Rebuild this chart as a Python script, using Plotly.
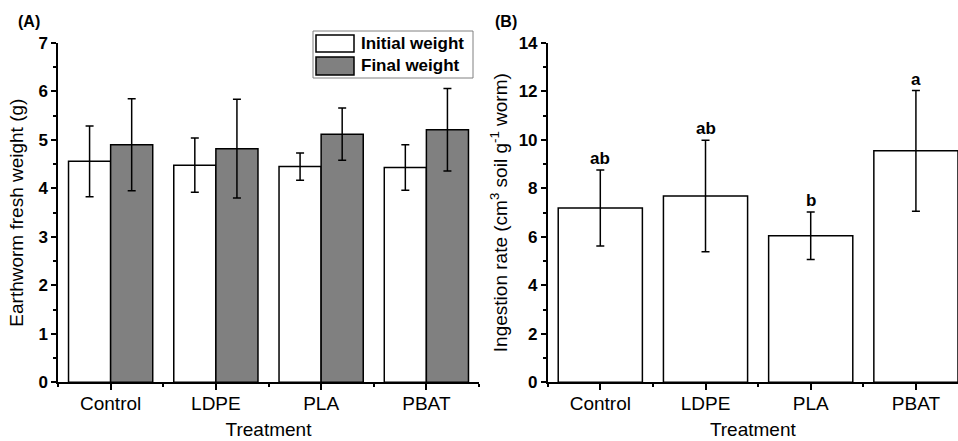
import plotly.graph_objects as go

# ---------------- data ----------------
categories = ["Control", "LDPE", "PLA", "PBAT"]
initial_mean = [4.56, 4.48, 4.45, 4.43]
initial_sd = [0.73, 0.56, 0.28, 0.47]
final_mean = [4.90, 4.82, 5.12, 5.21]
final_sd = [0.95, 1.02, 0.54, 0.85]
ingestion_mean = [7.19, 7.69, 6.05, 9.55]
ingestion_sd = [1.57, 2.30, 0.98, 2.49]
letters = ["ab", "ab", "b", "a"]
legend_labels = ["Initial weight", "Final weight"]

FONT = "Liberation Sans, Arial, sans-serif"
W, H = 958, 441
WHITE, GRAY = "white", "#808080"
idx = list(range(len(categories)))

err_style = dict(type="data", color="black", thickness=1.5, width=4, visible=True)

fig = go.Figure()
fig.add_trace(go.Bar(
    x=idx, y=initial_mean, name=legend_labels[0], showlegend=False,
    marker=dict(color=WHITE, line=dict(color="black", width=1.5)),
    error_y=dict(array=initial_sd, **err_style),
    xaxis="x", yaxis="y", offsetgroup="i",
))
fig.add_trace(go.Bar(
    x=idx, y=final_mean, name=legend_labels[1], showlegend=False,
    marker=dict(color=GRAY, line=dict(color="black", width=1.5)),
    error_y=dict(array=final_sd, **err_style),
    xaxis="x", yaxis="y", offsetgroup="f",
))
fig.add_trace(go.Bar(
    x=idx, y=ingestion_mean, name="Ingestion rate", showlegend=False,
    marker=dict(color=WHITE, line=dict(color="black", width=1.5)),
    error_y=dict(array=ingestion_sd, **err_style),
    xaxis="x2", yaxis="y2",
))

# significance letters
for i, (m, s, t) in enumerate(zip(ingestion_mean, ingestion_sd, letters)):
    fig.add_annotation(x=i, y=m + s, text=t, xref="x2", yref="y2",
                       showarrow=False, yanchor="bottom", yshift=0,
                       font=dict(family=FONT, size=17, color="black", weight="bold"))

# panel labels
for lbl, px in (("(A)", 16), ("(B)", 493)):
    fig.add_annotation(x=px / W, y=1 - 22 / H, xref="paper", yref="paper", text=lbl,
                       showarrow=False, xanchor="left", yanchor="middle",
                       font=dict(family=FONT, size=16, color="black", weight="bold"))

# legend box (Origin-style with wide swatches)
def px_x(v):
    return v / W

def px_y(v):
    return 1 - v / H

fig.add_shape(type="rect", xref="paper", yref="paper",
              x0=px_x(313), x1=px_x(473), y0=px_y(78), y1=px_y(31),
              line=dict(color="#808080", width=1), fillcolor="white", layer="above")
for (y0, y1, yc), col, lab in zip(((35, 52, 44), (57, 75, 65.5)), (WHITE, GRAY), legend_labels):
    fig.add_shape(type="rect", xref="paper", yref="paper",
                  x0=px_x(316), x1=px_x(354), y0=px_y(y1), y1=px_y(y0),
                  line=dict(color="black", width=1.5), fillcolor=col, layer="above")
    fig.add_annotation(x=px_x(359), y=px_y(yc), xref="paper", yref="paper", text=lab,
                       showarrow=False, xanchor="left", yanchor="middle",
                       font=dict(family=FONT, size=17, color="black", weight="bold"))

ydom = [1 - 382.3 / H, 1 - 43 / H]

common_x = dict(
    tickmode="array", tickvals=idx, ticktext=categories,
    showline=True, linecolor="black", linewidth=1.5,
    ticks="outside", ticklen=6, tickwidth=1.5, tickcolor="black",
    tickfont=dict(family=FONT, size=19, color="black"),
    ticklabelstandoff=-3,
    showgrid=False, zeroline=False, automargin=False,
    minor=dict(tickmode="linear", tick0=-0.5, dtick=1, ticks="outside", ticklen=3,
               tickwidth=1.5, tickcolor="black", showgrid=False),
    title=dict(text="Treatment", font=dict(family=FONT, size=19, color="black"), standoff=10),
)
common_y = dict(
    showline=True, linecolor="black", linewidth=1.5,
    ticks="outside", ticklen=5, tickwidth=1.5, tickcolor="black",
    tickfont=dict(family=FONT, size=17, color="black", weight="bold"),
    showgrid=False, zeroline=False, automargin=False,
)

fig.update_layout(
    width=W, height=H,
    margin=dict(l=0, r=0, t=0, b=0, autoexpand=False),
    paper_bgcolor="white", plot_bgcolor="white",
    barmode="group", bargap=0.2, bargroupgap=0,
    font=dict(family=FONT, color="black"),
    xaxis=dict(domain=[58 / W, 479 / W], range=[-0.5, 3.5], anchor="y", **common_x),
    xaxis2=dict(domain=[547.7 / W, 1.0], range=[-0.5, 3.4], anchor="y2", **common_x),
    yaxis=dict(domain=ydom, range=[0, 7], dtick=1, anchor="x",
               minor=dict(dtick=0.5, ticks="outside", ticklen=3, tickwidth=1.5, tickcolor="black"),
               title=dict(text="Earthworm fresh weight (g)",
                          font=dict(family=FONT, size=19, color="black"), standoff=10),
               **common_y),
    yaxis2=dict(domain=ydom, range=[0, 14], dtick=2, anchor="x2",
                minor=dict(dtick=1, ticks="outside", ticklen=3, tickwidth=1.5, tickcolor="black"),
                title=dict(text="Ingestion rate (cm<sup>3</sup> soil g<sup>-1</sup> worm)",
                           font=dict(family=FONT, size=19, color="black"), standoff=6),
                **common_y),
    showlegend=False,
)

fig.write_html("out.html")
